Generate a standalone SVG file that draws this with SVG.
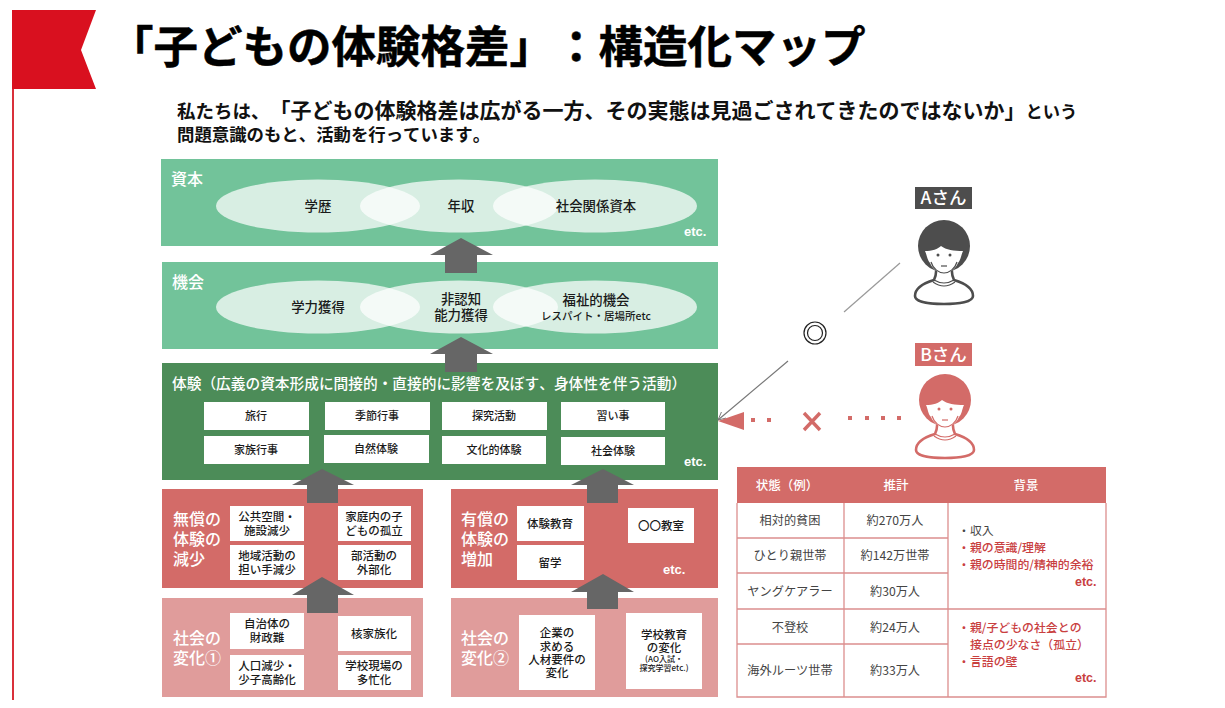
<svg xmlns="http://www.w3.org/2000/svg" width="1225" height="708" viewBox="0 0 1225 708">
<style>
text{font-family:"Noto Sans CJK JP","Noto Sans",sans-serif;font-weight:700;fill:#1a1a1a;font-kerning:none;font-feature-settings:"chws" 0,"palt" 0,"kern" 0;text-spacing-trim:space-all}
.m{text-anchor:middle}
.w{fill:#fff;font-size:16px;font-weight:500}
.big{fill:#fff;font-size:16px;font-weight:500}
.el{font-size:13.4px;font-weight:500}
.t{font-size:11px;text-anchor:middle;font-weight:500}
.s{font-size:11.5px;text-anchor:middle;font-weight:500}
.e{fill:#fff;font-size:13px;font-family:"Liberation Sans",sans-serif}
.ov{fill:#fff;fill-opacity:.72}
.box{fill:#fff}
.g{fill:#72c39a}.dg{fill:#4c8c58}.r{fill:#d36b68}.p{fill:#e09c9b}
.ar{fill:#666}
.c{font-size:12.2px;fill:#444;text-anchor:middle;font-weight:400}
.h{font-size:12.5px;fill:#fff;text-anchor:middle;font-weight:500}
.rt{font-size:11.9px;fill:#c9403f;font-weight:500}
.gl{font-size:11.9px;fill:#444;font-weight:400}
.re{font-family:"Liberation Sans",sans-serif;font-weight:700;font-size:12.5px;fill:#c9403f}
.tl{stroke:#dc8f8e;stroke-width:1.3;fill:none}
.sq{fill:#d36b68}
.lab{fill:#fff;font-size:17.5px;font-weight:500;text-anchor:middle}
</style>
<defs>
<marker id="open" viewBox="0 0 10 10" refX="9" refY="5" markerWidth="9" markerHeight="9" orient="auto" markerUnits="userSpaceOnUse"><path d="M0,0.5L9,5L0,9.500" fill="none" stroke="#777" stroke-width="1"/></marker>
<g id="person">
<circle cx="0" cy="0" r="26" fill="currentColor"/>
<path d="M-10,13C-7,22 -8,30 -10,34C-20,37 -29,42 -29,50C-29,56 -15,58 0,58C15,58 29,56 29,50C29,42 20,37 10,34C8,30 7,22 10,13Z" fill="#fff" stroke="currentColor" stroke-width="2.600" stroke-linejoin="round"/>
<path d="M-19,5C-12,5 -6,3 -3,0C2,4 10,5 19,5C17,9 17,14 14,17C11,24 5,27 0,27C-5,27 -11,24 -14,17C-17,14 -17,9 -19,5Z" fill="#fff"/>
<path d="M-13,16C-11,23 -5,27 0,27C5,27 11,23 13,16" fill="none" stroke="currentColor" stroke-width="1.200"/>
<path d="M-10,34Q0,40 10,34M-11,36Q0,44 11,36" fill="none" stroke="currentColor" stroke-width="1.200"/>
<circle cx="-6" cy="9" r="1.500" fill="currentColor"/><circle cx="6" cy="9" r="1.500" fill="currentColor"/>
<path d="M-3,20H3" stroke="currentColor" stroke-width="1.200"/>
</g>
</defs>
<rect width="1225" height="708" fill="#fff"/>

<g id="flag">
<polygon points="12,10 96,10 81,50 96,89 12,89" fill="#d9101f"/>
<rect x="12" y="89" width="2" height="611" fill="#d9303a"/>
</g>
<g id="title">
<text x="109" y="63" font-size="44.500" style="fill:#000;stroke:#000;stroke-width:.5">「子どもの体験格差」：構造化マップ</text>
</g>
<g id="subtitle">
<text x="177" y="118" style="fill:#111"><tspan font-size="18.500">私たちは、</tspan><tspan font-size="21">「子どもの体験格差は広がる一方、その実態は見過ごされてきたのではないか」</tspan><tspan font-size="17.300">という</tspan></text>
<text x="177" y="141" font-size="17.400" style="fill:#111">問題意識のもと、活動を行っています。</text>
</g>

<g id="node-capital">
<rect class="g" x="161" y="159" width="557" height="87"/>
<ellipse class="ov" cx="318" cy="206" rx="102" ry="26.500"/><ellipse class="ov" cx="459" cy="206" rx="99" ry="26.500"/><ellipse class="ov" cx="595" cy="206" rx="102" ry="26.500"/>
<text class="w" x="171" y="185">資本</text>
<text class="el m" x="318" y="211">学歴</text><text class="el m" x="461" y="211">年収</text><text class="el m" x="596" y="211">社会関係資本</text>
<text class="e" x="684" y="236">etc.</text>
</g>
<g id="node-opportunity">
<rect class="g" x="162" y="262" width="556" height="87"/>
<ellipse class="ov" cx="318" cy="307" rx="102" ry="26.500"/><ellipse class="ov" cx="459" cy="307" rx="99" ry="26.500"/><ellipse class="ov" cx="595" cy="307" rx="102" ry="26.500"/>
<text class="w" x="172" y="288">機会</text>
<text class="el m" x="318" y="312">学力獲得</text>
<text class="el m" x="461" y="304">非認知</text><text class="el m" x="461" y="320">能力獲得</text>
<text class="el m" x="596" y="305">福祉的機会</text><text class="m" x="596" y="320" style="font-size:10.500px;font-weight:500">レスパイト・居場所etc</text>
</g>
<g id="node-experience">
<rect class="dg" x="162" y="363" width="556" height="117"/>
<text x="172" y="389" style="fill:#fff;font-size:14.700px;font-weight:500">体験（広義の資本形成に間接的・直接的に影響を及ぼす、身体性を伴う活動）</text>
<rect class="box" x="204" y="402" width="105" height="28"/><text class="t" x="256" y="420">旅行</text>
<rect class="box" x="325" y="402" width="105" height="28"/><text class="t" x="377" y="420">季節行事</text>
<rect class="box" x="442" y="402" width="105" height="28"/><text class="t" x="494" y="420">探究活動</text>
<rect class="box" x="561" y="402" width="104" height="28"/><text class="t" x="613" y="420">習い事</text>
<rect class="box" x="204" y="436" width="105" height="28"/><text class="t" x="256" y="454">家族行事</text>
<rect class="box" x="324" y="435" width="105" height="28"/><text class="t" x="376" y="453">自然体験</text>
<rect class="box" x="442" y="436" width="104" height="28"/><text class="t" x="494" y="454">文化的体験</text>
<rect class="box" x="561" y="437" width="104" height="28"/><text class="t" x="613" y="455">社会体験</text>
<text class="e" x="684" y="466">etc.</text>
</g>
<g id="node-unpaid">
<rect class="r" x="162" y="489" width="261" height="99"/>
<text class="big" x="173" y="525">無償の</text><text class="big" x="173" y="545">体験の</text><text class="big" x="173" y="565">減少</text>
<rect class="box" x="230" y="506" width="74" height="35"/><text class="s" x="267" y="521">公共空間・</text><text class="s" x="267" y="535">施設減少</text>
<rect class="box" x="338" y="506" width="73" height="35"/><text class="s" x="374" y="521">家庭内の子</text><text class="s" x="374" y="535">どもの孤立</text>
<rect class="box" x="230" y="545" width="74" height="35"/><text class="s" x="267" y="560">地域活動の</text><text class="s" x="267" y="574">担い手減少</text>
<rect class="box" x="338" y="545" width="73" height="35"/><text class="s" x="374" y="560">部活動の</text><text class="s" x="374" y="574">外部化</text>
</g>
<g id="node-paid">
<rect class="r" x="451" y="489" width="267" height="99"/>
<text class="big" x="461" y="525">有償の</text><text class="big" x="461" y="545">体験の</text><text class="big" x="461" y="565">増加</text>
<rect class="box" x="517" y="506" width="67" height="35"/><text class="s" x="550" y="528">体験教育</text>
<rect class="box" x="517" y="545" width="67" height="35"/><text class="s" x="550" y="567">留学</text>
<rect class="box" x="628" y="508" width="66" height="35"/><text class="s" x="661" y="530">〇〇教室</text>
<text class="e" x="663" y="574">etc.</text>
</g>
<g id="node-society1">
<rect class="p" x="162" y="598" width="261" height="99"/>
<text class="big" x="173" y="644">社会の</text><text class="big" x="173" y="664">変化①</text>
<rect class="box" x="230" y="613" width="74" height="36"/><text class="s" x="267" y="628">自治体の</text><text class="s" x="267" y="642">財政難</text>
<rect class="box" x="338" y="616" width="73" height="35"/><text class="s" x="374" y="638">核家族化</text>
<rect class="box" x="230" y="655" width="74" height="35"/><text class="s" x="267" y="670">人口減少・</text><text class="s" x="267" y="684">少子高齢化</text>
<rect class="box" x="338" y="655" width="73" height="35"/><text class="s" x="374" y="670">学校現場の</text><text class="s" x="374" y="684">多忙化</text>
</g>
<g id="node-society2">
<rect class="p" x="451" y="598" width="267" height="99"/>
<text class="big" x="461" y="644">社会の</text><text class="big" x="461" y="664">変化②</text>
<rect class="box" x="519" y="615" width="76" height="75"/><text class="s" x="557" y="637">企業の</text><text class="s" x="557" y="651">求める</text><text class="s" x="557" y="664">人材要件の</text><text class="s" x="557" y="677">変化</text>
<rect class="box" x="626" y="613" width="76" height="76"/><text class="s" x="664" y="639">学校教育</text><text class="s" x="664" y="652">の変化</text><text class="m" x="664" y="662" style="font-size:8px;font-weight:500">(AO入試・</text><text class="m" x="664" y="671" style="font-size:8px;font-weight:500">探究学習etc.)</text>
</g>

<g id="connectors">
<polygon class="ar" points="461,238 493,255 477,255 477,273 445,273 445,255 430,255"/>
<polygon class="ar" points="461,337 493,354 477,354 477,372 445,372 445,354 430,354"/>
<polygon class="ar" points="322,469 354,485 338,485 338,503 307,503 307,485 292,485"/>
<polygon class="ar" points="603,469 634,485 618,485 618,503 587,503 587,485 571,485"/>
<polygon class="ar" points="322,577 354,595 338,595 338,613 307,613 307,595 292,595"/>
<polygon class="ar" points="603,574 634,592 618,592 618,609 587,609 587,592 571,592"/>
<path d="M900,263L844,312" stroke="#999" stroke-width="1.200" fill="none"/>
<path d="M788,361L718,420" stroke="#777" stroke-width="1.200" fill="none" marker-end="url(#open)"/>
<polygon points="718,421 744,412 744,430" fill="#d36b68"/>
<rect class="sq" x="751" y="418" width="4" height="4"/><rect class="sq" x="767" y="418" width="4" height="4"/>
<rect class="sq" x="848" y="416" width="4" height="4"/><rect class="sq" x="865" y="416" width="4" height="4"/><rect class="sq" x="881" y="416" width="4" height="4"/><rect class="sq" x="897" y="416" width="4" height="4"/>
</g>
<g id="node-circle"><circle cx="815" cy="333" r="11" fill="#fff" stroke="#222" stroke-width="1.200"/><circle cx="815" cy="333" r="7.500" fill="#fff" stroke="#222" stroke-width="1.200"/></g>
<g id="node-cross"><path d="M804,413L820,430M820,413L804,430" stroke="#d36b68" stroke-width="3.400" fill="none"/></g>

<g id="node-person-a">
<rect x="915" y="187" width="57" height="22" fill="#4d4d4d"/>
<text class="lab" x="943.500" y="204">Aさん</text>
<use href="#person" x="944" y="246" color="#4d4d4d"/>
</g>
<g id="node-person-b">
<rect x="915" y="343" width="57" height="23" fill="#d36b68"/>
<text class="lab" x="943.500" y="361">Bさん</text>
<use href="#person" x="945" y="400" color="#d36b68"/>
</g>

<g id="node-table">
<rect x="737" y="467" width="369" height="36" fill="#d36b68"/>
<path class="tl" d="M737,503V697H1106V503M844,503V697M948,503V697M737,538H948M737,573H948M737,609H1106M737,644H948"/>
<text class="h" x="787" y="490">状態（例）</text><text class="h" x="896" y="490">推計</text><text class="h" x="1026" y="490">背景</text>
<text class="c" x="790" y="525">相対的貧困</text><text class="c" x="895" y="525">約270万人</text>
<text class="c" x="790" y="560">ひとり親世帯</text><text class="c" x="895" y="560">約142万世帯</text>
<text class="c" x="790" y="596">ヤングケアラー</text><text class="c" x="895" y="596">約30万人</text>
<text class="c" x="790" y="632">不登校</text><text class="c" x="895" y="632">約24万人</text>
<text class="c" x="790" y="675">海外ルーツ世帯</text><text class="c" x="895" y="675">約33万人</text>
<text class="gl" x="958" y="535">・収入</text>
<text class="rt" x="958" y="552">・親の意識/理解</text>
<text class="rt" x="958" y="569">・親の時間的/精神的余裕</text>
<text class="re" x="1075" y="586">etc.</text>
<text class="rt" x="958" y="632">・親/子どもの社会との</text>
<text class="rt" x="970" y="649">接点の少なさ（孤立）</text>
<text class="rt" x="958" y="666">・言語の壁</text>
<text class="re" x="1075" y="682">etc.</text>
</g>
</svg>
